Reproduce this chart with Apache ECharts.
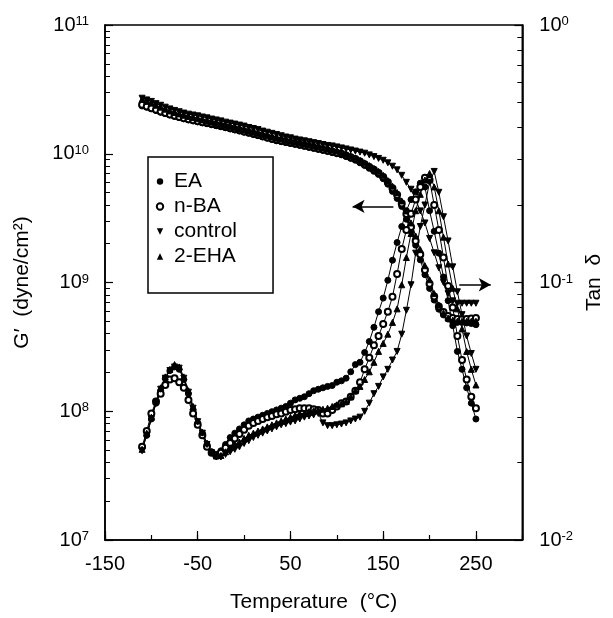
<!DOCTYPE html>
<html><head><meta charset="utf-8">
<script src="https://cdn.jsdelivr.net/npm/echarts@6/dist/echarts.min.js"></script>
<style>html,body{margin:0;padding:0;background:#fff}#c{width:613px;height:618px}</style>
</head><body><div id="c"></div>
<script>
const FONT = "'Liberation Sans', Arial, Helvetica, sans-serif";

const seriesNames = ['EA', 'n-BA', 'control', '2-EHA'];
const xLabels = [-150, -50, 50, 150, 250];

const temps = [-110,-105,-100,-95,-90,-85,-80,-75,-70,-65,-60,-55,-50,-45,-40,-35,-30,-25,-20,-15,-10,-5,
  0,5,10,15,20,25,30,35,40,45,50,55,60,65,70,75,80,85,90,95,
  100,105,110,115,120,125,130,135,140,145,150,155,160,165,170,175,180,185,190,195,
  200,205,210,215,220,225,230,235,240,245,250];

// G' (dyne/cm2)
const gEA = [2.35e10,2.3e10,2.24e10,2.17e10,2.1e10,2.05e10,2.0e10,1.95e10,1.91e10,1.87e10,1.83e10,1.8e10,1.77e10,1.74e10,1.71e10,1.68e10,1.65e10,1.62e10,1.59e10,1.56e10,1.53e10,1.5e10,
  1.47e10,1.44e10,1.41e10,1.38e10,1.35e10,1.32e10,1.29e10,1.26e10,1.24e10,1.22e10,1.2e10,1.18e10,1.16e10,1.14e10,1.12e10,1.1e10,1.08e10,1.06e10,1.04e10,1.02e10,
  1.0e10,9.8e9,9.5e9,9.2e9,8.9e9,8.5e9,8.1e9,7.7e9,7.3e9,6.9e9,6.4e9,5.8e9,5.1e9,4.5e9,3.9e9,3.1e9,2.5e9,1.95e9,1.5e9,1.15e9,
  9.0e8,7.3e8,6.2e8,5.6e8,5.2e8,5.0e8,4.9e8,4.9e8,4.85e8,4.8e8,4.7e8];
const gNBA = [2.4e10,2.33e10,2.26e10,2.2e10,2.13e10,2.07e10,2.02e10,1.97e10,1.93e10,1.89e10,1.85e10,1.82e10,1.79e10,1.76e10,1.73e10,1.7e10,1.67e10,1.64e10,1.61e10,1.58e10,1.55e10,1.52e10,
  1.49e10,1.46e10,1.43e10,1.4e10,1.37e10,1.34e10,1.31e10,1.28e10,1.26e10,1.24e10,1.22e10,1.2e10,1.18e10,1.16e10,1.14e10,1.12e10,1.1e10,1.08e10,1.06e10,1.04e10,
  1.02e10,1.0e10,9.7e9,9.4e9,9.1e9,8.7e9,8.3e9,7.9e9,7.5e9,7.1e9,6.6e9,6.0e9,5.4e9,4.8e9,4.1e9,3.4e9,2.7e9,2.1e9,1.65e9,1.25e9,
  9.8e8,7.8e8,6.5e8,5.9e8,5.5e8,5.3e8,5.2e8,5.2e8,5.2e8,5.25e8,5.3e8];
const gControl = [2.7e10,2.62e10,2.55e10,2.45e10,2.38e10,2.3e10,2.23e10,2.17e10,2.12e10,2.07e10,2.03e10,2.0e10,1.97e10,1.93e10,1.9e10,1.86e10,1.83e10,1.8e10,1.76e10,1.73e10,1.7e10,1.67e10,
  1.64e10,1.6e10,1.57e10,1.54e10,1.5e10,1.47e10,1.44e10,1.41e10,1.38e10,1.35e10,1.33e10,1.3e10,1.28e10,1.26e10,1.24e10,1.22e10,1.2e10,1.18e10,1.16e10,1.15e10,
  1.13e10,1.11e10,1.09e10,1.07e10,1.05e10,1.03e10,1.01e10,9.8e9,9.5e9,9.2e9,8.9e9,8.5e9,8.0e9,7.5e9,6.8e9,6.0e9,5.3e9,4.4e9,3.6e9,2.9e9,
  2.2e9,1.7e9,1.3e9,1.0e9,8.2e8,7.2e8,6.9e8,6.9e8,6.9e8,6.9e8,6.9e8];
const gEHA = [2.65e10,2.56e10,2.48e10,2.38e10,2.3e10,2.22e10,2.15e10,2.09e10,2.04e10,1.99e10,1.95e10,1.91e10,1.87e10,1.83e10,1.79e10,1.76e10,1.72e10,1.69e10,1.65e10,1.62e10,1.59e10,1.56e10,
  1.53e10,1.5e10,1.47e10,1.44e10,1.41e10,1.38e10,1.35e10,1.32e10,1.3e10,1.27e10,1.25e10,1.23e10,1.21e10,1.19e10,1.17e10,1.15e10,1.13e10,1.11e10,1.09e10,1.07e10,
  1.05e10,1.02e10,9.9e9,9.6e9,9.3e9,8.9e9,8.5e9,8.1e9,7.7e9,7.3e9,6.8e9,6.2e9,5.6e9,5.0e9,4.3e9,3.6e9,2.9e9,2.3e9,1.8e9,1.35e9,
  1.05e9,8.2e8,6.7e8,5.8e8,5.3e8,5.1e8,5.0e8,5.0e8,5.0e8,5.0e8,5.0e8];

// Tan delta
const tEA = [0.0228,0.0255,0.0295,0.034,0.038,0.0425,0.0455,0.047,0.046,0.042,0.037,0.032,0.0285,0.026,0.0235,0.022,0.0215,0.0222,0.0235,0.025,0.026,0.027,
  0.028,0.029,0.0295,0.030,0.0305,0.031,0.0315,0.032,0.0325,0.033,0.034,0.035,0.0355,0.036,0.037,0.038,0.0385,0.039,0.0395,0.0398,
  0.041,0.0415,0.0425,0.045,0.048,0.049,0.0535,0.059,0.067,0.077,0.087,0.102,0.122,0.143,0.165,0.19,0.21,0.225,0.243,0.235,
  0.19,0.158,0.13,0.105,0.085,0.068,0.054,0.046,0.039,0.034,0.0295];
const tNBA = [0.023,0.0265,0.031,0.0345,0.037,0.040,0.042,0.0425,0.041,0.039,0.035,0.031,0.028,0.0255,0.023,0.0218,0.0213,0.0218,0.0228,0.0238,0.0248,0.0258,
  0.0268,0.0278,0.0285,0.029,0.0295,0.030,0.0303,0.0308,0.031,0.0315,0.032,0.0322,0.0325,0.0325,0.0325,0.0322,0.032,0.031,0.031,0.032,
  0.033,0.034,0.0345,0.036,0.038,0.041,0.046,0.051,0.057,0.062,0.069,0.077,0.088,0.108,0.135,0.16,0.185,0.21,0.235,0.255,
  0.25,0.20,0.16,0.125,0.097,0.080,0.062,0.050,0.042,0.036,0.0325];
const tControl = [0.0222,0.0255,0.0295,0.034,0.0385,0.0425,0.0455,0.047,0.0465,0.0425,0.0375,0.0325,0.0288,0.026,0.0235,0.0218,0.021,0.021,0.0215,0.022,0.0225,0.023,
  0.0237,0.0243,0.025,0.0255,0.026,0.0265,0.027,0.0275,0.028,0.0283,0.0287,0.029,0.0295,0.030,0.0303,0.0306,0.031,0.0285,0.0278,0.0278,
  0.028,0.0282,0.0285,0.029,0.0295,0.030,0.0316,0.034,0.037,0.0395,0.043,0.046,0.050,0.054,0.063,0.078,0.098,0.13,0.165,0.20,
  0.245,0.27,0.224,0.18,0.145,0.115,0.092,0.075,0.062,0.053,0.046];
const tEHA = [0.0225,0.026,0.030,0.0345,0.039,0.043,0.046,0.048,0.047,0.043,0.038,0.033,0.029,0.0262,0.0238,0.022,0.0212,0.0213,0.022,0.0228,0.0235,0.024,
  0.0248,0.0255,0.026,0.0265,0.027,0.0275,0.028,0.0285,0.029,0.0295,0.030,0.0305,0.031,0.031,0.0315,0.0318,0.032,0.0322,0.0325,0.033,
  0.0335,0.0338,0.0345,0.036,0.038,0.0395,0.042,0.045,0.049,0.054,0.058,0.063,0.070,0.079,0.098,0.125,0.155,0.19,0.22,0.25,
  0.265,0.235,0.19,0.15,0.118,0.095,0.079,0.066,0.054,0.046,0.040];

const minorMult = [2,3,4,5,6,7,8,9];
function minorLogTicks(lo, hi) {
  const out = [];
  for (let n = lo; n < hi; n++) minorMult.forEach(k => out.push(n + Math.log10(k)));
  return out;
}

const pair = arr => temps.map((t, i) => [t, arr[i]]);
const supFmt = v => '{b|10}{s|' + Math.round(Math.log10(v)) + '}';
const rich = {
  b: {fontSize: 20, lineHeight: 20, fontFamily: FONT, color: '#000', verticalAlign: 'bottom'},
  s: {fontSize: 13, lineHeight: 13, fontFamily: FONT, color: '#000', verticalAlign: 'top', padding: [0, 0, 9, 0]}
};

const styles = {
  'EA': {symbol: 'circle', symbolRotate: 0},
  'n-BA': {symbol: 'emptyCircle', symbolRotate: 0},
  'control': {symbol: 'triangle', symbolRotate: 180},
  '2-EHA': {symbol: 'triangle', symbolRotate: 0}
};
function mk(name, arr, yIdx, extra) {
  return Object.assign({
    name: name, type: 'line', data: pair(arr), xAxisIndex: 0, yAxisIndex: yIdx,
    symbol: styles[name].symbol, symbolRotate: styles[name].symbolRotate, symbolSize: 6,
    showSymbol: true, showAllSymbol: true,
    lineStyle: {color: '#000', width: 1}, itemStyle: {color: '#000', borderColor: '#000'},
    emphasis: {disabled: true}, animation: false, z: 3
  }, extra || {});
}
const arrowStyle = {
  symbol: ['none', 'arrow'], symbolSize: [10, 12], silent: true, animation: false,
  lineStyle: {color: '#000', width: 1.5, type: 'solid'}, label: {show: false}
};

const chart = echarts.init(document.getElementById('c'), null, {renderer: 'canvas'});
chart.setOption({
  animation: false,
  backgroundColor: '#fff',
  grid: {left: 105, right: 82, top: 25, bottom: 75, show: true, borderColor: '#000', borderWidth: 1.5, containLabel: false},
  legend: {
    data: seriesNames, orient: 'vertical', left: 148, top: 157,
    padding: [14, 36, 26, 3], itemGap: 4, itemWidth: 18, itemHeight: 8,
    borderColor: '#000', borderWidth: 1.5, selectedMode: false,
    lineStyle: {width: 0},
    textStyle: {fontSize: 21, color: '#000', fontFamily: FONT}
  },
  xAxis: [
    {type: 'value', min: -150, max: 300, interval: 50, position: 'bottom',
      name: 'Temperature  (°C)', nameLocation: 'middle', nameGap: 52,
      nameTextStyle: {fontSize: 21, color: '#000', fontFamily: FONT},
      axisLine: {show: true, onZero: false, lineStyle: {color: '#000', width: 1.6}},
      axisTick: {show: true, inside: true, length: 5, lineStyle: {color: '#000', width: 1.2}},
      axisLabel: {margin: 14, fontSize: 20, color: '#000', fontFamily: FONT,
        formatter: v => xLabels.indexOf(v) >= 0 ? String(v) : ''},
      splitLine: {show: false}},
    {type: 'value', min: -150, max: 300, position: 'bottom',
      axisLine: {show: false, onZero: false}, axisLabel: {show: false}, splitLine: {show: false},
      axisTick: {show: true, inside: true, length: 9, customValues: xLabels, lineStyle: {color: '#000', width: 1.2}}}
  ],
  yAxis: [
    {type: 'log', logBase: 10, min: 1e7, max: 1e11, position: 'left',
      name: 'G′  (dyne/cm²)', nameLocation: 'middle', nameGap: 72, nameRotate: 90,
      nameTextStyle: {fontSize: 21, color: '#000', fontFamily: FONT},
      axisLine: {show: true, onZero: false, lineStyle: {color: '#000', width: 1.6}},
      axisTick: {show: true, inside: true, length: 8, lineStyle: {color: '#000', width: 1.2}},
      axisLabel: {margin: 16, formatter: supFmt, rich: rich},
      splitLine: {show: false}},
    {type: 'value', min: 7, max: 11, position: 'left',
      axisLine: {show: false, onZero: false}, axisLabel: {show: false}, splitLine: {show: false},
      axisTick: {show: true, inside: true, length: 5, customValues: minorLogTicks(7, 11), lineStyle: {color: '#000', width: 1}}},
    {type: 'log', logBase: 10, min: 0.01, max: 1, position: 'right',
      name: 'Tan  δ', nameLocation: 'middle', nameGap: 55, nameRotate: 90,
      nameTextStyle: {fontSize: 21, color: '#000', fontFamily: FONT},
      axisLine: {show: true, onZero: false, lineStyle: {color: '#000', width: 1.6}},
      axisTick: {show: true, inside: true, length: 8, lineStyle: {color: '#000', width: 1.2}},
      axisLabel: {margin: 17, formatter: supFmt, rich: rich},
      splitLine: {show: false}},
    {type: 'value', min: -2, max: 0, position: 'right',
      axisLine: {show: false, onZero: false}, axisLabel: {show: false}, splitLine: {show: false},
      axisTick: {show: true, inside: true, length: 5, customValues: minorLogTicks(-2, 0), lineStyle: {color: '#000', width: 1}}}
  ],
  series: [
    mk('EA', gEA, 0, {markLine: Object.assign({data: [[{coord: [161, 3.9e9]}, {coord: [117, 3.9e9]}]]}, arrowStyle)}),
    mk('n-BA', gNBA, 0),
    mk('control', gControl, 0),
    mk('2-EHA', gEHA, 0),
    mk('EA', tEA, 2, {markLine: Object.assign({data: [[{coord: [232, 0.098]}, {coord: [266, 0.098]}]]}, arrowStyle)}),
    mk('n-BA', tNBA, 2),
    mk('control', tControl, 2),
    mk('2-EHA', tEHA, 2)
  ]
});
</script>
</body></html>
